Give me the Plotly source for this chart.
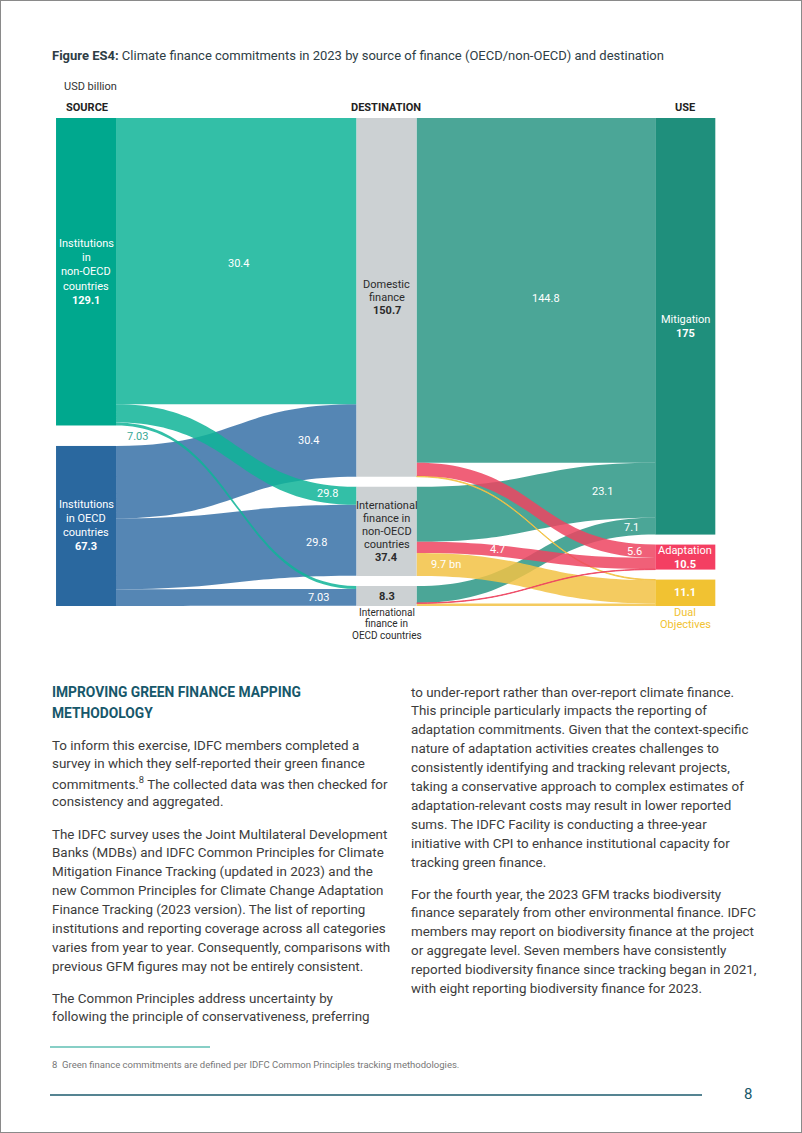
import plotly.graph_objects as go

# ---------------- data ----------------
sources = ["Institutions in non-OECD countries", "Institutions in OECD countries"]
destinations = ["Domestic finance", "International finance in non-OECD countries",
                "International finance in OECD countries"]
uses = ["Mitigation", "Adaptation", "Dual Objectives"]

node_totals = [129.1, 67.3, 150.7, 37.4, 8.3, 175, 10.5, 11.1]

# links: (source index, target index, value) ; node order = sources + destinations + uses
link_src = [1, 1, 1, 0, 0, 0,
            2, 3, 4,
            2, 3, 4,
            2, 3, 4]
link_tgt = [2, 3, 4, 2, 3, 4,
            5, 5, 5,
            7, 7, 7,
            6, 6, 6]
link_val = [30.4, 29.8, 7.03, 120.3, 7.6, 1.27,
            144.8, 23.1, 7.1,
            0.3, 9.7, 1.1,
            5.6, 4.7, 0.2]
# labels printed on the links (as in the original figure)
link_text = ["30.4", "29.8", "7.03", "30.4", "29.8", "7.03",
             "144.8", "23.1", "7.1",
             None, "9.7 bn", None,
             "5.6", "4.7", None]

# ---------------- styling ----------------
W, H = 802, 1133
DX0, DX1, DY0, DY1 = 56, 716, 118, 606          # sankey domain in px
DW, DH = DX1 - DX0, DY1 - DY0
PAD = 10
THICK = 60
col_x = [0.0455, 0.5008, 0.9535]
node_col = [0, 0, 1, 1, 1, 2, 2, 2]

node_colors = ["#00a88e", "#2a689f", "#ccd1d3", "#ccd1d3", "#ccd1d3",
               "#1f8f7c", "#f43f62", "#f1c232"]
src_link_col = {0: "rgba(15,180,152,0.85)", 1: "rgba(55,113,167,0.85)"}
tgt_link_col = {5: "rgba(43,151,133,0.85)", 6: "rgba(237,68,96,0.85)", 7: "rgba(242,194,68,0.85)"}
link_colors = [src_link_col[s] if s in src_link_col else tgt_link_col[t]
               for s, t in zip(link_src, link_tgt)]

# text positions (px) of the link value labels
link_text_pos = [(308, 441), (316, 542), (318, 597), (239, 263), (327, 493), (137, 436),
                 (546, 299), (602, 492), (631, 527),
                 None, (446, 564), None,
                 (634, 551), (497, 549), None]
link_text_col = ["white"] * 5 + ["#3aa896"] + ["white"] * 9


def px(x, y):
    return x / W, 1 - y / H


# ---- node geometry derived from flows (mirrors d3-sankey scaling) ----
n_nodes = len(node_totals)
flow_in = [0.0] * n_nodes
flow_out = [0.0] * n_nodes
for s, t, v in zip(link_src, link_tgt, link_val):
    flow_out[s] += v
    flow_in[t] += v
node_flow = [max(a, b) for a, b in zip(flow_in, flow_out)]
cols = {}
for i, c in enumerate(node_col):
    cols.setdefault(c, []).append(i)
ky = min((DH - (len(ids) - 1) * PAD) / sum(node_flow[i] for i in ids) for ids in cols.values())
node_y = [0.0] * n_nodes
for c, ids in cols.items():
    tot = sum(node_flow[i] for i in ids) * ky
    gap = (DH - tot) / (len(ids) - 1)
    top = 0.0
    for i in ids:
        h = node_flow[i] * ky
        node_y[i] = (top + h / 2) / DH
        top += h + gap
node_x = [col_x[c] for c in node_col]

fig = go.Figure(go.Sankey(
    arrangement="fixed",
    domain=dict(x=[DX0 / W, DX1 / W], y=[1 - DY1 / H, 1 - DY0 / H]),
    node=dict(label=[""] * n_nodes, color=node_colors, pad=PAD, thickness=THICK,
              line=dict(width=0), x=node_x, y=node_y),
    link=dict(source=link_src, target=link_tgt, value=link_val, color=link_colors),
    hoverinfo="none",
))

FONT = "Roboto"
anns = []


def ann(x, y, text, size=11, color="#333333", xanchor="center"):
    ax, ay = px(x, y)
    anns.append(dict(x=ax, y=ay, xref="paper", yref="paper", text=text, showarrow=False,
                     xanchor=xanchor, yanchor="middle",
                     font=dict(family=FONT, size=size, color=color)))


# node labels centred on nodes
def node_center(i):
    return DX0 + node_x[i] * DW, DY0 + node_y[i] * DH


def stack(i, lines, color, spacing=14, dy=0):
    cx, cy = node_center(i)
    n = len(lines)
    for k, line in enumerate(lines):
        ann(cx, cy + dy + (k - (n - 1) / 2) * spacing, line, 11, color)


stack(0, ["Institutions", "in", "non-OECD", "countries", f"<b>{node_totals[0]}</b>"], "white", 14.3)
stack(1, ["Institutions", "in OECD", "countries", f"<b>{node_totals[1]}</b>"], "white", 14)
stack(2, ["Domestic", "finance", f"<b>{node_totals[2]}</b>"], "#2b2b2b", 13)
stack(3, ["International", "finance in", "non-OECD", "countries", f"<b>{node_totals[3]}</b>"], "#2b2b2b", 13)
stack(4, [f"<b>{node_totals[4]}</b>"], "#2b2b2b")
cx, cy = node_center(4)
for k, line in enumerate(["International", "finance in", "OECD countries"]):
    ann(cx, cy + 16 + k * 11.5, line, 10, "#2b2b2b")
stack(5, ["Mitigation", f"<b>{node_totals[5]:g}</b>"], "white", 14)
stack(6, ["Adaptation", f"<b>{node_totals[6]}</b>"], "white", 14)
stack(7, [f"<b>{node_totals[7]}</b>"], "white")
cx, cy = node_center(7)
for k, line in enumerate(["Dual", "Objectives"]):
    ann(cx, cy + 20 + k * 12, line, 11, "#f1c232")

# link labels
for txt, pos, col in zip(link_text, link_text_pos, link_text_col):
    if txt and pos:
        ann(pos[0], pos[1], txt, 11, col)

# headers
ann(50, 56, "<b>Figure ES4:</b> Climate finance commitments in 2023 by source of finance (OECD/non-OECD) and destination",
    13, "#2e3d45", "left")
ann(62, 87, "USD billion", 11, "#333333", "left")
ann(87, 108, "<b>SOURCE</b>", 11, "#222222")
ann(386, 108, "<b>DESTINATION</b>", 11, "#222222")
ann(685, 108, "<b>USE</b>", 11, "#222222")

# body text
HEAD = "#17586b"
BODY = "#3c3c3c"
LH = 18.9
ann(50, 692, "<b>IMPROVING GREEN FINANCE MAPPING</b>", 13.8, HEAD, "left")
ann(50, 713, "<b>METHODOLOGY</b>", 13.8, HEAD, "left")

left_paras = [
    (745, ["To inform this exercise, IDFC members completed a",
           "survey in which they self-reported their green finance",
           "commitments.<sup>8</sup> The collected data was then checked for",
           "consistency and aggregated."]),
    (834, ["The IDFC survey uses the Joint Multilateral Development",
           "Banks (MDBs) and IDFC Common Principles for Climate",
           "Mitigation Finance Tracking (updated in 2023) and the",
           "new Common Principles for Climate Change Adaptation",
           "Finance Tracking (2023 version). The list of reporting",
           "institutions and reporting coverage across all categories",
           "varies from year to year. Consequently, comparisons with",
           "previous GFM figures may not be entirely consistent."]),
    (998, ["The Common Principles address uncertainty by",
           "following the principle of conservativeness, preferring"]),
]
right_paras = [
    (692, ["to under-report rather than over-report climate finance.",
           "This principle particularly impacts the reporting of",
           "adaptation commitments. Given that the context-specific",
           "nature of adaptation activities creates challenges to",
           "consistently identifying and tracking relevant projects,",
           "taking a conservative approach to complex estimates of",
           "adaptation-relevant costs may result in lower reported",
           "sums. The IDFC Facility is conducting a three-year",
           "initiative with CPI to enhance institutional capacity for",
           "tracking green finance."]),
    (894, ["For the fourth year, the 2023 GFM tracks biodiversity",
           "finance separately from other environmental finance. IDFC",
           "members may report on biodiversity finance at the project",
           "or aggregate level. Seven members have consistently",
           "reported biodiversity finance since tracking began in 2021,",
           "with eight reporting biodiversity finance for 2023."]),
]
for x0, paras in ((50, left_paras), (409, right_paras)):
    for y0, lines in paras:
        for k, line in enumerate(lines):
            ann(x0, y0 + k * LH, line, 13.4, BODY, "left")

ann(50, 1064, "8  Green finance commitments are defined per IDFC Common Principles tracking methodologies.",
    9.5, "#777777", "left")
ann(748, 1094, "8", 15, HEAD)

shapes = [
    dict(type="line", xref="paper", yref="paper", x0=50 / W, x1=210 / W, y0=1 - 1047 / H, y1=1 - 1047 / H,
         line=dict(color="#5fbfb3", width=1.5)),
    dict(type="line", xref="paper", yref="paper", x0=50 / W, x1=702 / W, y0=1 - 1095 / H, y1=1 - 1095 / H,
         line=dict(color="#1d5b6e", width=1.5)),
    dict(type="rect", xref="paper", yref="paper", x0=0, x1=1, y0=0, y1=1,
         line=dict(color="#8a8a8a", width=2)),
]

fig.update_layout(width=W, height=H, margin=dict(l=0, r=0, t=0, b=0),
                  paper_bgcolor="white", plot_bgcolor="white",
                  annotations=anns, shapes=shapes, showlegend=False,
                  font=dict(family=FONT))
fig.write_html("out.html", config={"displayModeBar": False},
               post_script="document.body.style.margin='0px';")
